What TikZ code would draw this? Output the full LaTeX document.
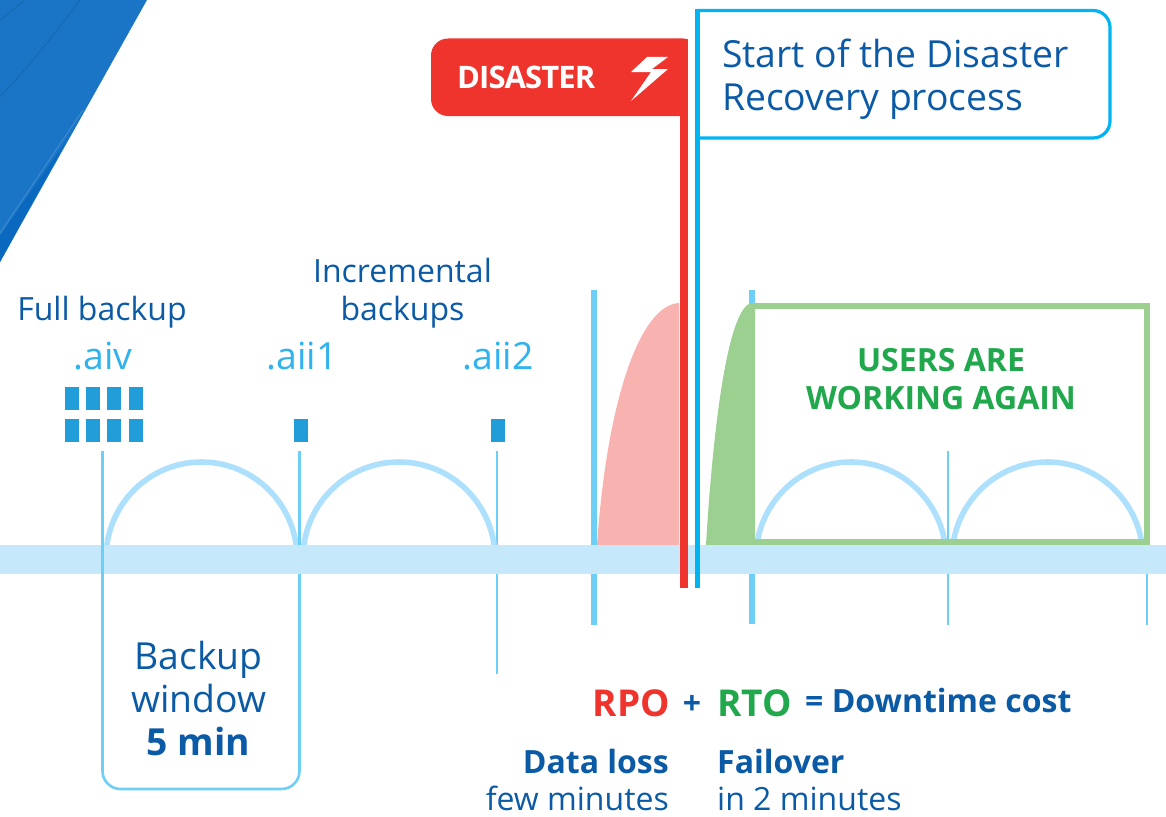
\documentclass[tikz,border=0pt]{standalone}
\usepackage{fontspec}
\setmainfont{Open Sans}
\definecolor{navy}{HTML}{0B5AA6}
\definecolor{cyanT}{HTML}{2FB2EE}
\definecolor{skyln}{HTML}{6DCFF6}
\definecolor{barc}{HTML}{C5E9FA}
\definecolor{arcc}{HTML}{ACE0FC}
\definecolor{redc}{HTML}{EF332D}
\definecolor{bluebox}{HTML}{00B4F1}
\definecolor{grn}{HTML}{9BD090}
\definecolor{grnT}{HTML}{21A84D}
\definecolor{pinkc}{HTML}{F8B3B1}
\definecolor{sq}{HTML}{219ED9}
\definecolor{corner}{HTML}{1B75C6}
\definecolor{cornerd}{HTML}{0A69BE}
\tikzset{
 x=1pt,y=-1pt,
 lbl/.style={inner sep=0pt,anchor=base,font=\fontsize{32}{32}\selectfont,text=navy},
 ext/.style={inner sep=0pt,anchor=base,font=\fontsize{37.4}{37.4}\selectfont,text=cyanT},
 big/.style={inner sep=0pt,anchor=base,font=\fontsize{37.3}{37.3}\selectfont,text=navy},
 bold/.style={font=\bfseries\fontsize{32}{32}\selectfont},
 bar/.style={fill=sq,draw=none},
 thin/.style={draw=skyln,line width=2.6pt},
 thick/.style={draw=skyln,line width=6pt},
 hump/.style={draw=arcc,line width=5.6pt},
}
\begin{document}
\begin{tikzpicture}
\useasboundingbox (0,0) rectangle (1166,816);
% corner graphic
\fill[corner] (0,0) -- (147,0) -- (0,262) -- cycle;
\fill[cornerd] (0,236) -- (68,138) -- (0,262) -- cycle;
\draw[corner!85!white,line width=1pt] (0,233) -- (83,110);
\draw[corner!90!black,line width=1pt] (0,97) .. controls (30,65) and (50,40) .. (80,0);
\draw[corner!90!black,line width=1pt] (0,20) -- (25,0);
% timeline ticks
\draw[thick] (594,290) -- (594,625);
\draw[thick] (752,290) -- (752,624);
% thin ticks
\draw[thin] (497,451) -- (497,674);
\draw[thin] (948,451) -- (948,625);
\draw[thin] (1147,451) -- (1147,625);
% area shapes
\fill[pinkc] (597,545) .. controls (607,400) and (640,305) .. (679,303) -- (679,545) -- cycle;
\fill[grn] (706,545) .. controls (714,410) and (730,305) .. (752,303) -- (755,303) -- (755,545) -- cycle;
\draw[hump] (106,558) arc[start angle=180,end angle=360,x radius=95.5,y radius=96];
\draw[hump] (303,558) arc[start angle=180,end angle=360,x radius=96,y radius=96];
\draw[hump] (756,558) arc[start angle=180,end angle=360,x radius=95,y radius=96];
\draw[hump] (952,558) arc[start angle=180,end angle=360,x radius=95.5,y radius=96];
% backup window
\draw[thin,rounded corners=18pt] (102.5,451) -- (102.5,789) -- (299.5,789) -- (299.5,451);
\draw[draw=grn,line width=5.7pt] (752,306) -- (1147,306) -- (1147,542) -- (752,542);
% bar
\fill[barc] (0,545) rectangle (1166,574);
\draw[thin] (102.5,540) -- (102.5,580);
% backup blocks
\foreach \x in {65,86,107,129}{
  \fill[bar] (\x,387) rectangle +(13.5,23);
  \fill[bar] (\x,419) rectangle +(13.5,23);
}
\fill[bar] (294,419) rectangle +(13.5,23);
\fill[bar] (491,419) rectangle +(13.5,23);
% disaster flag
\fill[redc,rounded corners=17pt] (431,116) -- (431,38.5) -- (700,38.5) -- (700,116) -- cycle;
\fill[white] (688,30) rectangle (705,120);
\fill[redc] (680,110) rectangle (688,588);
\fill[white] (631,72) -- (647,57) -- (668,57) -- (652,69) -- (668,69) -- (631,101) -- (651,72) -- cycle;
\node[inner sep=0pt,anchor=base west,text=white,font=\bfseries\fontsize{31}{31}\selectfont] (dis) at (457,88) {\addfontfeature{LetterSpace=-3}DISASTER};
% recovery box
\draw[bluebox,line width=3.2pt,rounded corners=17pt] (697,10.5) -- (1110,10.5) -- (1110,138) -- (697,138);
\draw[bluebox,line width=5pt] (697.5,8.9) -- (697.5,588);
\node[big,anchor=base west] (s1) at (722,67) {Start of the Disaster};
\node[big,anchor=base west] (s2) at (722,110) {Recovery process};
% labels
\node[lbl] (fb) at (102,320) {Full backup};
\node[lbl] (i1) at (402.5,282) {Incremental};
\node[lbl] (i2) at (402.5,320) {backups};
\node[ext] (a1) at (103,369) {.aiv};
\node[ext] (a2) at (302,369) {.aii1};
\node[ext] (a3) at (498,369) {.aii2};
\node[big] (b1) at (198.5,669) {Backup};
\node[big] (b2) at (198.5,712) {window};
\node[big,font=\bfseries\fontsize{37.3}{37.3}\selectfont] (b3) at (198.5,755) {5 min};
\node[inner sep=0pt,anchor=base,text=grnT,bold] (u1) at (941,371) {USERS ARE};
\node[inner sep=0pt,anchor=base,text=grnT,bold] (u2) at (941,409) {WORKING AGAIN};
\node[inner sep=0pt,anchor=base east,text=redc,font=\bfseries\fontsize{37}{37}\selectfont] (rpo) at (670,716) {RPO};
\node[inner sep=0pt,anchor=base,text=navy,bold] (plus) at (692,714) {+};
\node[inner sep=0pt,anchor=base west,text=grnT,font=\bfseries\fontsize{37}{37}\selectfont] (rto) at (717,716) {RTO};
\node[inner sep=0pt,anchor=base west,text=navy,bold] (dc) at (805,712) {= Downtime cost};
\node[lbl,bold,anchor=base east] (dl) at (669,773) {Data loss};
\node[lbl,anchor=base east] (fm) at (669,810) {few minutes};
\node[lbl,bold,anchor=base west] (fo) at (717,773) {Failover};
\node[lbl,anchor=base west] (m2) at (717,810) {in 2 minutes};
\end{tikzpicture}
\end{document}
